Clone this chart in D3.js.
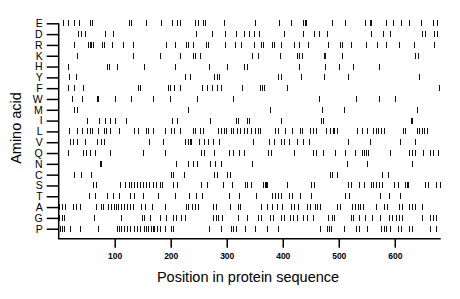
<!DOCTYPE html>
<html>
<head>
<meta charset="utf-8">
<script src="https://cdn.jsdelivr.net/npm/d3@7"></script>
<style>
  body { margin: 0; background: #fff; }
  svg { display: block; font-family: "Liberation Sans", Arial, sans-serif; }
</style>
</head>
<body>
<div id="chart"></div>
<script>
// amino acids, top to bottom
const aminoAcids = ["E","D","R","K","H","Y","F","W","M","I","L","V","Q","N","C","S","T","A","G","P"];

// positions of each residue in the sequence
const posE = [8,17,28,37,55,59,126,129,155,183,203,212,217,243,248,258,262,296,350,393,415,437,439,441,488,512,546,555,558,584,597,612,625,646,668,676];
const posD = [34,39,47,82,97,245,273,297,316,331,339,349,357,402,436,455,465,479,558,579,592,649,654,670,676];
const posR = [28,52,55,58,62,77,80,95,114,132,192,208,227,231,239,263,267,297,314,325,349,362,365,380,384,397,420,429,445,481,503,506,522,549,569,584,608,634,670];
const posK = [32,133,180,217,239,243,252,345,355,395,425,429,435,474,475,506,637,642];
const posH = [16,86,89,104,153,208,268,301,330,336,429,476,501,525,572];
const posY = [19,30,226,234,277,282,287,391,396,433,473,517,644];
const posF = [17,28,44,141,145,196,198,206,217,255,264,274,282,289,328,359,363,367,408,679];
const posW = [24,42,69,71,101,129,168,199,247,312,464,531,571,600];
const posM = [27,32,230,377,470,510,640];
const posI = [50,72,83,92,100,121,203,212,270,317,321,336,340,396,468,471,629,630,631];
const posL = [18,33,42,50,55,59,70,81,85,91,107,135,142,155,159,168,190,200,206,216,239,243,252,258,285,290,295,299,307,311,318,323,330,336,344,351,356,360,387,391,404,416,430,434,449,454,459,477,485,489,492,497,533,542,551,561,566,570,575,581,615,619,640,644,649,653,658];
const posV = [21,26,32,47,69,76,80,161,187,226,230,234,237,251,259,267,275,286,346,376,384,397,402,411,426,437,447,517,555,610,637];
const posQ = [16,43,49,55,65,92,151,190,254,259,278,304,312,322,330,374,379,420,454,459,472,494,512,529,541,545,549,552,592,626,631,636,651,663,668,677];
const posN = [74,75,209,230,240,247,270,279,290,345,515,551,631];
const posC = [27,40,58,200,204,224,277,283,300,306,484,488,496,578,588];
const posS = [61,67,110,118,125,129,134,139,145,151,155,162,168,174,180,185,204,212,254,264,293,310,332,336,343,365,368,370,372,408,450,455,517,522,537,545,558,562,567,571,577,599,605,618,621,624,654,659,674,681];
const posT = [54,65,87,97,107,127,135,151,177,208,233,245,255,304,322,353,380,386,392,396,412,417,430,451,512,519,574,590,609];
const posA = [1,6,11,26,31,38,67,76,79,88,93,98,102,106,111,117,122,127,132,147,154,167,190,227,231,238,243,249,276,280,305,321,324,362,371,380,389,399,415,420,427,443,448,457,461,466,496,503,524,529,534,538,543,567,581,587,608,613,626,631,637,648];
const posG = [1,5,9,63,112,149,153,163,181,191,204,209,219,226,276,280,285,291,321,337,356,361,377,383,396,402,413,419,426,437,443,454,481,488,492,522,525,536,546,559,574,590,595,602,608,613,648,663,668,674];
const posP = [2,6,10,21,38,71,104,107,111,117,122,128,134,139,145,152,156,160,164,168,171,175,180,190,200,204,268,290,307,312,316,332,351,371,391,467,479,483,486,509,531,537,550,575,580,585,592,606,611,625,630,663,673];

const positions = {E: posE, D: posD, R: posR, K: posK, H: posH, Y: posY, F: posF, W: posW,
  M: posM, I: posI, L: posL, V: posV, Q: posQ, N: posN, C: posC, S: posS, T: posT,
  A: posA, G: posG, P: posP};

const xTicks = [100, 200, 300, 400, 500, 600];
const seqLength = 682;

const width = 460, height = 299;

const svg = d3.select("#chart").append("svg")
    .attr("width", width)
    .attr("height", height);

const x = d3.scaleLinear().domain([0, seqLength]).range([58.7, 440.7]);
const y = d3.scalePoint().domain(aminoAcids).range([23.3, 228.7]);
const axisY = 238.7;

// marks
const marks = aminoAcids.flatMap(a => positions[a].map(p => ({aa: a, pos: p})));

svg.append("g")
  .selectAll("line")
  .data(marks)
  .join("line")
    .attr("x1", d => Math.round(x(d.pos)) + 0.5)
    .attr("x2", d => Math.round(x(d.pos)) + 0.5)
    .attr("y1", d => y(d.aa) - 3)
    .attr("y2", d => y(d.aa) + 3)
    .attr("stroke", "#111")
    .attr("stroke-width", 1)
    .attr("shape-rendering", "crispEdges");

// left axis
const yAxis = svg.append("g")
    .attr("transform", `translate(${x(0)},0)`)
    .call(d3.axisLeft(y).tickSize(12).tickPadding(4));
yAxis.select(".domain").remove();
yAxis.selectAll(".tick line").attr("stroke", "#000").attr("stroke-width", 1.5);
yAxis.selectAll(".tick text").attr("font-size", 10.5).attr("fill", "#000")
    .attr("font-family", "Liberation Sans, Arial, sans-serif");

// bottom axis
const xAxis = svg.append("g")
    .attr("transform", `translate(0,${axisY})`)
    .call(d3.axisBottom(x).tickValues(xTicks).tickSize(9).tickPadding(5));
xAxis.select(".domain").remove();
xAxis.selectAll(".tick line").attr("stroke", "#000").attr("stroke-width", 1.5);
xAxis.selectAll(".tick text").attr("font-size", 8.5).attr("fill", "#000")
    .attr("font-weight", "bold")
    .attr("font-family", "Liberation Sans, Arial, sans-serif");

// frame lines
svg.append("path")
    .attr("d", `M${x(0)},${y("E")}V${axisY}H${x(seqLength)}`)
    .attr("fill", "none")
    .attr("stroke", "#000")
    .attr("stroke-width", 1.5);

// titles
svg.append("text")
    .attr("x", 248)
    .attr("y", 282)
    .attr("text-anchor", "middle")
    .attr("font-size", 14.5)
    .text("Position in protein sequence");

svg.append("text")
    .attr("transform", `translate(21,128) rotate(-90)`)
    .attr("text-anchor", "middle")
    .attr("font-size", 14.5)
    .text("Amino acid");
</script>
</body>
</html>
